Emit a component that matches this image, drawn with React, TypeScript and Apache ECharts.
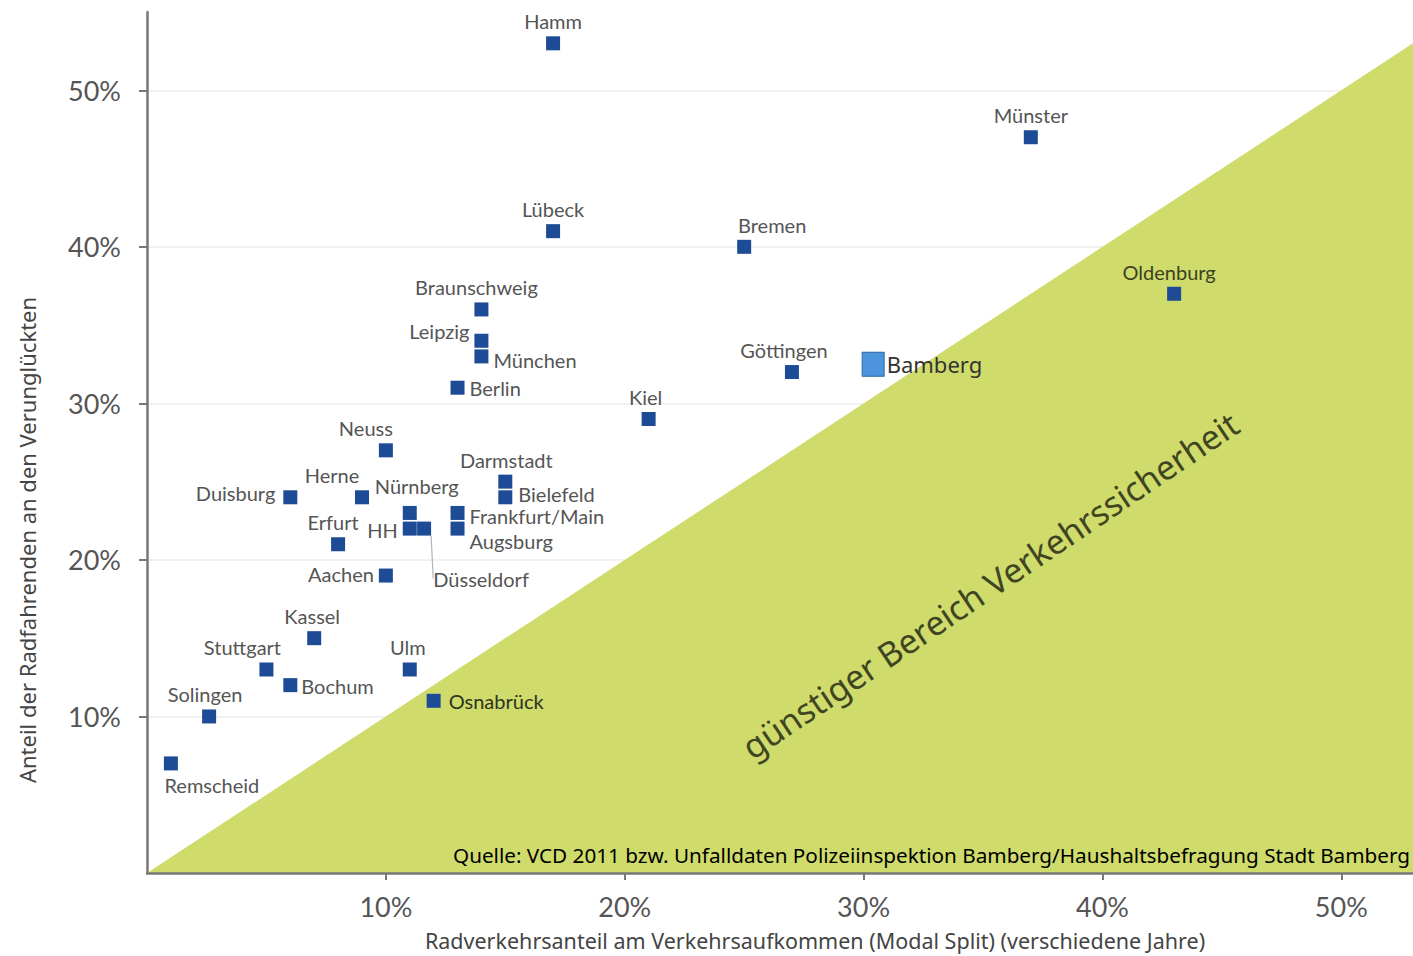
import React, { useEffect, useRef } from "react";
import * as echarts from "echarts";

// ---- data ----
const cities = [
  "Hamm", "Münster", "Lübeck", "Bremen", "Oldenburg", "Braunschweig", "Leipzig", "München",
  "Berlin", "Göttingen", "Kiel", "Neuss", "Darmstadt", "Bielefeld", "Duisburg", "Herne",
  "Nürnberg", "HH", "Düsseldorf", "Frankfurt/Main", "Augsburg", "Erfurt", "Aachen", "Kassel",
  "Stuttgart", "Bochum", "Ulm", "Osnabrück", "Solingen", "Remscheid",
];
// Radverkehrsanteil (Modal Split) in %
const modalSplit = [
  17, 37, 17, 25, 43, 14, 14, 14,
  13, 27, 21, 10, 15, 15, 6, 9,
  11, 11, 11.6, 13, 13, 8, 10, 7,
  5, 6, 11, 12, 2.6, 1,
];
// Anteil der Radfahrenden an den Verunglückten in %
const accidentShare = [
  53, 47, 41, 40, 37, 36, 34, 33,
  31, 32, 29, 27, 25, 24, 24, 24,
  23, 22, 22, 23, 22, 21, 19, 15,
  13, 12, 13, 11, 10, 7,
];
const bambergName = "Bamberg";
const bambergValue = [30.4, 32.5];
const diagonal = [[0, 0], [53, 53]];
const xTickValues = [10, 20, 30, 40, 50];
const yTickValues = [10, 20, 30, 40, 50];

const xTitle = "Radverkehrsanteil am Verkehrsaufkommen (Modal Split) (verschiedene Jahre)";
const yTitle = "Anteil der Radfahrenden an den Verunglückten";
const sourceText = "Quelle: VCD 2011 bzw. Unfalldaten Polizeiinspektion Bamberg/Haushaltsbefragung Stadt Bamberg";
const areaText = "günstiger Bereich Verkehrssicherheit";

// ---- label placement (style only) ----
type Place = { position: string; shift?: [number, number]; color?: string; leader?: boolean };
const labelPlacement: Record<string, Place> = {
  Hamm: { position: "top" },
  Münster: { position: "top" },
  Lübeck: { position: "top" },
  Bremen: { position: "top", shift: [28, 0] },
  Oldenburg: { position: "top", shift: [-5, 0], color: "#3c4220" },
  Braunschweig: { position: "top", shift: [-5, 0] },
  Leipzig: { position: "left", shift: [0, -10] },
  München: { position: "right", shift: [0, 4] },
  Berlin: { position: "right" },
  Göttingen: { position: "top", shift: [-8, 0] },
  Kiel: { position: "top", shift: [-3, 0] },
  Neuss: { position: "top", shift: [-20, 0] },
  Darmstadt: { position: "top", shift: [1, 0] },
  Bielefeld: { position: "right", shift: [1, -3] },
  Duisburg: { position: "left", shift: [-3, -4] },
  Herne: { position: "top", shift: [-30, 0] },
  Nürnberg: { position: "top", shift: [7, -5] },
  HH: { position: "left", shift: [0, 1] },
  Düsseldorf: { position: "bottom", shift: [57, 28], leader: true },
  "Frankfurt/Main": { position: "right", shift: [0, 3] },
  Augsburg: { position: "right", shift: [0, 12] },
  Erfurt: { position: "top", shift: [-5, 0] },
  Aachen: { position: "left", shift: [0, -2] },
  Kassel: { position: "top", shift: [-2, 0] },
  Stuttgart: { position: "top", shift: [-24, 0] },
  Bochum: { position: "right", shift: [-1, 1] },
  Ulm: { position: "top", shift: [-2, 0] },
  Osnabrück: { position: "right", shift: [3, 0], color: "#2e3320" },
  Solingen: { position: "top", shift: [-4, 0] },
  Remscheid: { position: "bottom", shift: [41, 0] },
};

const App: React.FC = () => {
  const ref = useRef<HTMLDivElement>(null);

  useEffect(() => {
    if (!ref.current) return;
    const chart = echarts.init(ref.current, undefined, { renderer: "svg" });

    const placeOf = (c: string): Place => labelPlacement[c] || { position: "top" };

    const cityData = cities.map((c, i) => {
      const p = placeOf(c);
      const item: any = {
        name: c,
        value: [modalSplit[i], accidentShare[i]],
        label: {
          position: p.position,
          color: p.color || "#555555",
        },
      };
      if (p.leader) {
        item.labelLine = { show: true, lineStyle: { color: "#a9b6c4", width: 1.2 } };
      }
      return item;
    });

    const option: any = {
      animation: false,
      backgroundColor: "#ffffff",
      grid: { left: 147, right: 0, top: 12, bottom: 83, containLabel: false },
      xAxis: {
        type: "value",
        min: 0,
        max: 53,
        interval: 10,
        z: 10,
        axisLine: { show: true, lineStyle: { color: "#777777", width: 2.5 } },
        axisTick: { show: true, length: 7, customValues: xTickValues, lineStyle: { color: "#777777", width: 2 } },
        axisLabel: {
          customValues: xTickValues,
          margin: 20,
          fontFamily: "Lato",
          fontSize: 27,
          color: "#555555",
          formatter: (v: number) => `${v}%`,
        },
        splitLine: { show: false },
      },
      yAxis: {
        type: "value",
        min: 0,
        max: 55,
        interval: 10,
        axisLine: { show: true, lineStyle: { color: "#777777", width: 2.5 } },
        axisTick: { show: true, length: 8, customValues: yTickValues, lineStyle: { color: "#777777", width: 2 } },
        axisLabel: {
          customValues: yTickValues,
          margin: 26,
          fontFamily: "Lato",
          fontSize: 27,
          color: "#555555",
          formatter: (v: number) => `${v}%`,
        },
        splitLine: { show: true, lineStyle: { color: "#ececec", width: 1.5 } },
      },
      series: [
        {
          type: "line",
          data: diagonal,
          symbol: "none",
          silent: true,
          z: 3,
          lineStyle: { width: 0, color: "#cfdb6b" },
          areaStyle: { color: "#cfdb6b", opacity: 1, origin: "start" },
        },
        {
          type: "scatter",
          data: cityData,
          symbol: "rect",
          symbolSize: 14,
          z: 5,
          itemStyle: { color: "#1d4b95", opacity: 1 },
          label: {
            show: true,
            formatter: "{b}",
            fontFamily: "Lato",
            fontSize: 20,
            color: "#555555",
            distance: 5,
          },
          labelLine: { show: false },
          labelLayout: (params: any) => {
            const p = placeOf(cities[params.dataIndex]);
            const s = p.shift || [0, 0];
            return { dx: s[0], dy: s[1] };
          },
        },
        {
          type: "scatter",
          data: [{ name: bambergName, value: bambergValue }],
          symbol: "rect",
          symbolSize: [22, 24],
          z: 6,
          itemStyle: { color: "#4c94dc", borderColor: "#2b66a8", borderWidth: 1, opacity: 1 },
          label: {
            show: true,
            position: "right",
            distance: 2,
            formatter: "{b}",
            fontFamily: "Noto Sans",
            fontSize: 22,
            color: "#333333",
          },
        },
      ],
      graphic: [
        {
          type: "text",
          x: 990,
          y: 585,
          rotation: (34 * Math.PI) / 180,
          z: 20,
          style: {
            text: areaText,
            fontFamily: "Noto Sans",
            fontSize: 34,
            fill: "#3f4522",
            align: "center",
            verticalAlign: "middle",
          },
        },
        {
          type: "text",
          x: 1410,
          y: 855,
          z: 20,
          style: {
            text: sourceText,
            fontFamily: "Noto Sans",
            fontSize: 20.7,
            fill: "#000000",
            align: "right",
            verticalAlign: "middle",
          },
        },
        {
          type: "text",
          x: 815,
          y: 940,
          z: 20,
          style: {
            text: xTitle,
            fontFamily: "Noto Sans",
            fontSize: 21.5,
            fill: "#444444",
            align: "center",
            verticalAlign: "middle",
          },
        },
        {
          type: "text",
          x: 27,
          y: 540,
          rotation: Math.PI / 2,
          z: 20,
          style: {
            text: yTitle,
            fontFamily: "Noto Sans",
            fontSize: 22,
            fill: "#444444",
            align: "center",
            verticalAlign: "middle",
          },
        },
      ],
    };

    chart.setOption(option);
    return () => chart.dispose();
  }, []);

  return (
    <div
      ref={ref}
      style={{ position: "absolute", left: 0, top: 0, width: 1413, height: 956 }}
    />
  );
};

export default App;
